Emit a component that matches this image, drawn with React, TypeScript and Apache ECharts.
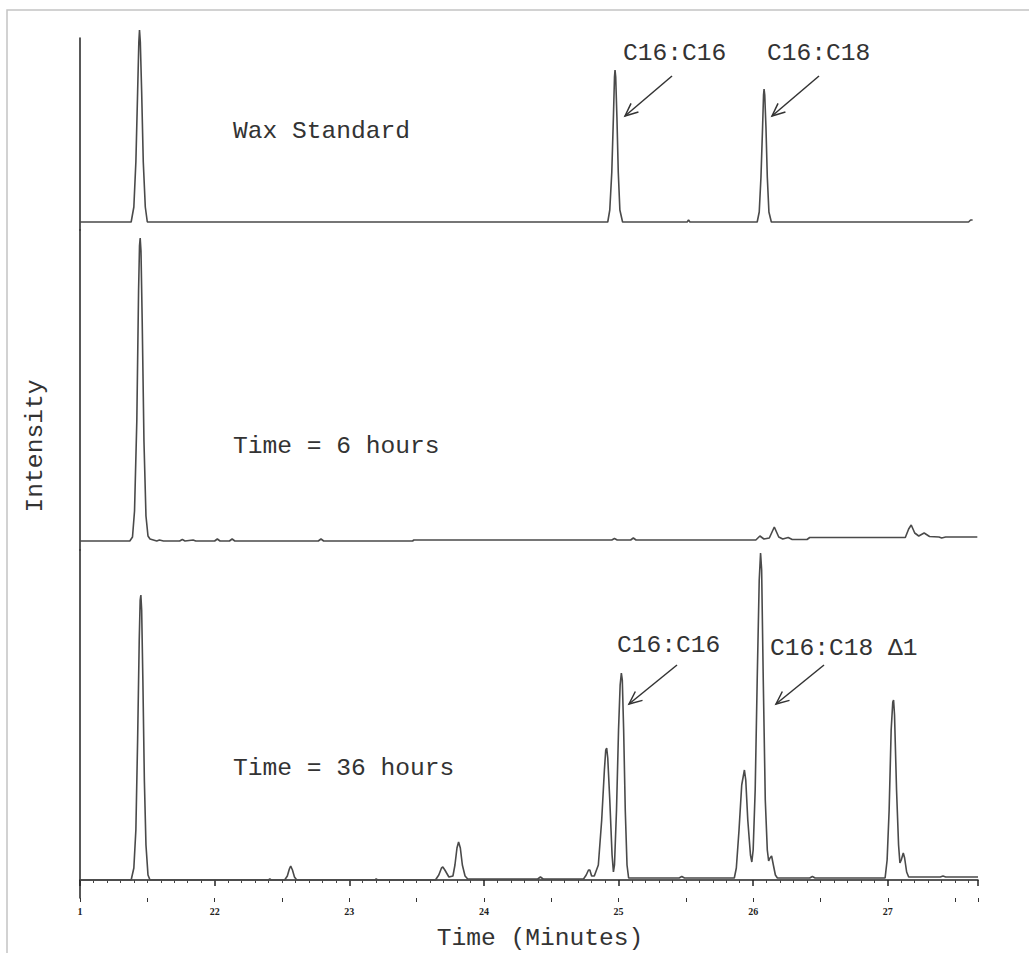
import React, { useEffect, useRef } from "react";
import * as echarts from "echarts";

// ---- Data (time in minutes, intensity in arbitrary units) ----
const timeMin = 21;
const timeMax = 27.67;
const xTickValues = [21, 22, 23, 24, 25, 26, 27];
const xTickLabels = ["1", "22", "23", "24", "25", "26", "27"];

const waxStandard: [number, number][] = [
  [21.0, 0], [21.38, 0], [21.4, 15], [21.415, 60], [21.428, 130], [21.437, 180], [21.442, 192],
  [21.448, 180], [21.458, 130], [21.47, 60], [21.485, 15], [21.5, 0],
  [24.92, 0], [24.935, 12], [24.95, 50], [24.962, 105], [24.97, 145], [24.974, 152], [24.979, 145],
  [24.988, 105], [24.998, 50], [25.01, 12], [25.03, 0],
  [25.51, 0], [25.52, 2], [25.53, 0],
  [26.03, 0], [26.045, 10], [26.058, 45], [26.07, 95], [26.077, 127], [26.081, 133], [26.086, 127],
  [26.095, 95], [26.105, 45], [26.117, 10], [26.135, 0],
  [27.6, 0], [27.615, 2], [27.63, 2],
];

const sixHours: [number, number][] = [
  [21.0, 0], [21.37, 0], [21.39, 4], [21.405, 30], [21.422, 120], [21.435, 250], [21.442, 295],
  [21.447, 303], [21.453, 290], [21.462, 220], [21.475, 100], [21.49, 25], [21.505, 5], [21.52, 2],
  [21.57, 0], [21.59, 1], [21.62, 0], [21.74, 0], [21.76, 1.5], [21.78, 0], [21.84, 1], [21.86, 0],
  [22.0, 0], [22.02, 2], [22.04, 0], [22.11, 0], [22.13, 2], [22.15, 0], [22.77, 0], [22.79, 2],
  [22.81, 0], [23.47, 0], [23.48, 1], [24.95, 1], [24.97, 2.5], [24.99, 1], [25.09, 1], [25.11, 3],
  [25.13, 1], [26.02, 1], [26.05, 5], [26.08, 2], [26.12, 3], [26.157, 14], [26.19, 4], [26.22, 2],
  [26.26, 3.5], [26.29, 1.5], [26.4, 1.5], [26.42, 3.5], [27.13, 3.5], [27.155, 12], [27.174, 16],
  [27.2, 8], [27.23, 5], [27.27, 8], [27.31, 4.5], [27.38, 4], [27.4, 3], [27.43, 4], [27.665, 4],
];

const thirtySixHours: [number, number][] = [
  [21.0, 0], [21.38, 0], [21.4, 12], [21.415, 50], [21.428, 140], [21.44, 240], [21.447, 280],
  [21.452, 285], [21.458, 270], [21.467, 200], [21.478, 100], [21.49, 35], [21.505, 5], [21.52, 0],
  [22.4, 0], [22.41, 1], [22.42, 0], [22.52, 0], [22.54, 4], [22.555, 11], [22.565, 14], [22.578, 10],
  [22.593, 3], [22.61, 0], [23.19, 0], [23.2, 1], [23.21, 0],
  [23.64, 0], [23.665, 5], [23.685, 12], [23.695, 13], [23.71, 10], [23.74, 3], [23.77, 4], [23.785, 15],
  [23.8, 32], [23.812, 38], [23.825, 32], [23.84, 15], [23.86, 4], [23.88, 1],
  [24.12, 1], [24.4, 1], [24.42, 3], [24.44, 1], [24.74, 1], [24.76, 5], [24.777, 10], [24.787, 10],
  [24.8, 4], [24.82, 4], [24.85, 15], [24.875, 60], [24.895, 110], [24.905, 130], [24.912, 132],
  [24.92, 122], [24.935, 80], [24.952, 25], [24.962, 8], [24.97, 15], [24.985, 70], [25.0, 150],
  [25.012, 195], [25.021, 207], [25.028, 200], [25.038, 150], [25.05, 70], [25.063, 15], [25.075, 2],
  [25.45, 2], [25.47, 3.5], [25.49, 2], [25.86, 2], [25.875, 12], [25.895, 50], [25.915, 95],
  [25.935, 110], [25.945, 100], [25.96, 60], [25.98, 25], [25.99, 18], [26.0, 30], [26.015, 90],
  [26.03, 200], [26.045, 300], [26.055, 327], [26.063, 310], [26.075, 200], [26.09, 80], [26.105, 30],
  [26.115, 19], [26.125, 22], [26.137, 24], [26.15, 15], [26.165, 5], [26.18, 2], [26.42, 2],
  [26.44, 3.5], [26.46, 2], [26.98, 2], [26.995, 20], [27.01, 70], [27.025, 150], [27.037, 178],
  [27.043, 180], [27.05, 165], [27.065, 90], [27.08, 35], [27.09, 17], [27.1, 20], [27.115, 27],
  [27.125, 22], [27.14, 8], [27.155, 3], [27.39, 3], [27.41, 4], [27.43, 3], [27.67, 3],
];

const traces = [waxStandard, sixHours, thirtySixHours];
const traceNames = ["Wax Standard", "Time = 6 hours", "Time = 36 hours"];
const yRanges: [number, number][] = [[-8, 184], [-9, 311], [-18, 330]];

const FONT = "'Liberation Mono', 'DejaVu Sans Mono', monospace";
const TEXT_COLOR = "#333";

function arrow(x1: number, y1: number, x2: number, y2: number) {
  const ang = Math.atan2(y2 - y1, x2 - x1);
  const L = 14;
  const spread = (24 * Math.PI) / 180;
  const ax = x2 - L * Math.cos(ang - spread);
  const ay = y2 - L * Math.sin(ang - spread);
  const bx = x2 - L * Math.cos(ang + spread);
  const by = y2 - L * Math.sin(ang + spread);
  return [
    { type: "line", shape: { x1, y1, x2, y2 }, style: { stroke: "#333", lineWidth: 1.5 }, z: 10 },
    {
      type: "polyline",
      shape: { points: [[ax, ay], [x2, y2], [bx, by]] },
      style: { stroke: "#333", lineWidth: 1.5, fill: null },
      z: 10,
    },
  ];
}

function label(text: string, x: number, y: number, rotation = 0, align = "left") {
  return {
    type: "text",
    x,
    y,
    rotation,
    z: 10,
    style: {
      text,
      fontFamily: FONT,
      fontSize: 24.6,
      fill: TEXT_COLOR,
      align,
      verticalAlign: "middle",
    },
  };
}

export default function App() {
  const ref = useRef<HTMLDivElement>(null);
  useEffect(() => {
    document.body.style.margin = "0";
    if (!ref.current) return;
    const chart = echarts.init(ref.current, undefined, { renderer: "svg" });
    const grids = [
      { left: 80, right: 51, top: 38, height: 192 },
      { left: 80, right: 51, top: 230, height: 320 },
      { left: 80, right: 51, top: 550, height: 348 },
    ];
    const xAxes: any[] = grids.map((_, i) => ({
      type: "value",
      gridIndex: i,
      position: "bottom",
      min: timeMin,
      max: timeMax,
      interval: 1,
      show: i === 2,
      axisLine: { show: i === 2, lineStyle: { color: "#222", width: 1.5 } },
      axisTick: { show: i === 2, length: 6, lineStyle: { color: "#222", width: 1.5 } },
      minorTick: { show: i === 2, splitNumber: 10, length: 3, lineStyle: { color: "#444", width: 1 } },
      splitLine: { show: false },
      axisLabel: {
        show: i === 2,
        showMaxLabel: false,
        margin: 8,
        fontFamily: "'Liberation Serif', serif",
        fontWeight: "bold",
        fontSize: 10,
        color: "#222",
        formatter: (v: number) => {
          const k = xTickValues.findIndex((t) => Math.abs(t - v) < 1e-6);
          return k >= 0 ? xTickLabels[k] : "";
        },
      },
    }));
    xAxes.push({
      type: "value",
      gridIndex: 2,
      position: "bottom",
      min: timeMin,
      max: timeMax,
      interval: 0.5,
      axisLine: { show: false },
      axisTick: { show: true, length: 4, lineStyle: { color: "#333", width: 1 } },
      axisLabel: { show: false },
      splitLine: { show: false },
    });
    const yAxes = grids.map((_, i) => ({
      type: "value",
      gridIndex: i,
      min: yRanges[i][0],
      max: yRanges[i][1],
      axisLine: { show: true, lineStyle: { color: "#222", width: 1.5 } },
      axisTick: { show: false },
      axisLabel: { show: false },
      splitLine: { show: false },
    }));
    const series = traces.map((d, i) => ({
      type: "line",
      name: traceNames[i],
      xAxisIndex: i,
      yAxisIndex: i,
      data: d,
      showSymbol: false,
      clip: false,
      lineStyle: { color: "#4a4a4a", width: 1.6 },
    }));
    chart.setOption({
      animation: false,
      backgroundColor: "#fff",
      grid: grids,
      xAxis: xAxes,
      yAxis: yAxes,
      series,
      graphic: [
        {
          type: "polyline",
          shape: { points: [[7, 953], [7, 10], [1029, 10]] },
          style: { stroke: "#c4c4c4", lineWidth: 1.5, fill: null },
        },
        label(traceNames[0], 233, 131),
        label(traceNames[1], 233, 446),
        label(traceNames[2], 233, 768),
        label("C16:C16", 623, 53),
        label("C16:C18", 767, 53),
        label("C16:C16", 617, 645),
        label("C16:C18 Δ1", 770, 648),
        label("Intensity", 35, 446, Math.PI / 2, "center"),
        label("Time (Minutes)", 540, 938, 0, "center"),
        ...arrow(672, 76, 625, 116),
        ...arrow(819, 76, 772, 116),
        ...arrow(677, 665, 629, 704),
        ...arrow(824, 665, 776, 704),
      ],
    });
    return () => chart.dispose();
  }, []);
  return <div ref={ref} style={{ width: 1029, height: 953 }} />;
}
